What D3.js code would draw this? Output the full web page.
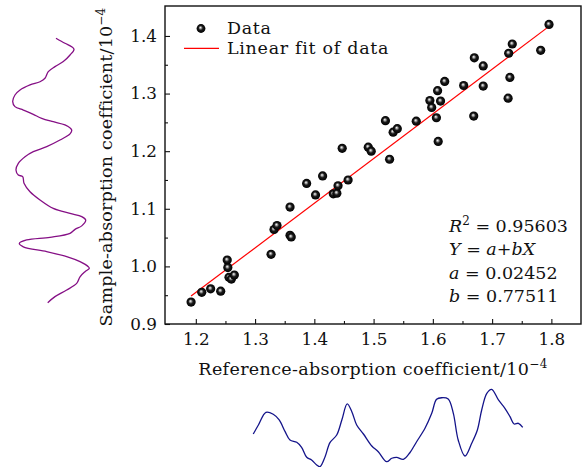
<!DOCTYPE html>
<html>
<head>
<meta charset="utf-8">
<script src="https://cdn.jsdelivr.net/npm/d3@7"></script>
<style>
  html, body { margin: 0; padding: 0; background: #fff; }
  svg { display: block; }
  text { font-family: "DejaVu Serif", serif; fill: #111; }
</style>
</head>
<body>
<svg id="chart" width="585" height="467"></svg>
<script>
// Measured absorption coefficients (units of 1e-4)
const referenceCoef = [
  1.192, 1.210, 1.225, 1.242, 1.253, 1.254, 1.256, 1.260, 1.265, 1.327,
  1.332, 1.337, 1.359, 1.359, 1.361, 1.387, 1.402, 1.414, 1.432, 1.438,
  1.440, 1.457, 1.447, 1.491, 1.496, 1.520, 1.527, 1.533, 1.540, 1.572,
  1.595, 1.598, 1.606, 1.608, 1.613, 1.609, 1.620, 1.652, 1.669, 1.670,
  1.685, 1.685, 1.727, 1.730, 1.728, 1.734, 1.782, 1.796
];
const sampleCoef = [
  0.938, 0.955, 0.961, 0.957, 1.011, 0.998, 0.981, 0.978, 0.985, 1.021,
  1.064, 1.071, 1.103, 1.054, 1.051, 1.144, 1.124, 1.157, 1.126, 1.127,
  1.140, 1.150, 1.205, 1.207, 1.200, 1.253, 1.186, 1.233, 1.239, 1.252,
  1.288, 1.276, 1.258, 1.305, 1.287, 1.217, 1.321, 1.314, 1.261, 1.362,
  1.348, 1.313, 1.292, 1.328, 1.370, 1.386, 1.375, 1.420
];

// Linear fit results
const fitA = 0.02452;
const fitB = 0.77511;
const fitR2 = "0.95603";

// Axis ticks
const xTicks = [1.2, 1.3, 1.4, 1.5, 1.6, 1.7, 1.8];
const xMinor = [1.25, 1.35, 1.45, 1.55, 1.65, 1.75];
const yTicks = [0.9, 1.0, 1.1, 1.2, 1.3, 1.4];
const yMinor = [0.95, 1.05, 1.15, 1.25, 1.35];

// Sample spectrum profile (position along trace, relative intensity)
const sampleTraceT = [0.1, 2, 3.3, 4.3, 6.4, 8.9, 10.8, 12.7, 15.2, 16.5, 17.7, 19.6, 21.5, 24, 25.9, 27.2, 28.8, 30.3, 31.6, 32.8,
  34.7, 36.2, 38.5, 41, 42.9, 44.8, 47.3, 49.8, 51.7, 52.3, 54.8, 58, 61.1, 64.3, 66.2, 67.4, 68.7, 70.9, 72.2, 73.7,
  75.2, 76.2, 77.5, 78.8, 80.6, 82.5, 84.4, 86.3, 86.9, 88.2, 90.1, 92.6, 95.1, 97.6, 99.9];
const sampleTraceV = [56.4, 67.9, 76.5, 79.5, 74.4, 65.8, 55.1, 46.5, 42.3, 35.9, 23.1, 10.3, 3.8, 0.9, 3.8, 14.5, 27.3, 38.1, 52.9, 67.9,
  76.5, 74.4, 61.5, 44.5, 27.3, 16.7, 8.1, 5.1, 8.1, 13.7, 15.4, 23.1, 35.9, 52.9, 74.4, 89.4, 94.5, 89.4, 80.8, 74.4,
  48.7, 18.8, 9.4, 14.5, 44.5, 70.1, 87.2, 97.8, 99.1, 93.6, 87.2, 82.9, 70.1, 55.1, 45.8];

// Reference spectrum profile (position along trace, relative intensity)
const referenceTraceT = [0.1, 2, 4.8, 7.5, 9.7, 11.9, 13.7, 16.2, 18, 19.9, 21.7, 23.6, 24.8, 26.7, 28.5, 31, 32.9, 34.9, 36.6, 38.4,
  40.9, 44, 46.4, 49.5, 51.4, 53.2, 55.7, 58.1, 60.6, 63.7, 66.2, 68, 69.9, 72.3, 74.2, 76, 78.5, 81, 83.1, 84.7,
  86.6, 88.4, 90.9, 93.3, 95.2, 96.7, 98.3, 99.9];
const referenceTraceV = [42.3, 53.8, 70.1, 67.6, 60.3, 45.3, 34.6, 31.7, 25.3, 12.4, 9, 2.6, 0.4, 13.2, 31.2, 41, 60.3, 80.8, 70.9, 53.8,
  42.3, 26.9, 19.6, 6.8, 11.2, 12.4, 9.9, 18.3, 32.4, 49.6, 68.8, 86.8, 88.8, 87.2, 68.8, 34.6, 14.1, 30.4, 47.4, 73.1,
  94.5, 99.6, 85.9, 75.3, 64.5, 55.1, 56, 50.9];

const svg = d3.select("#chart");
const plot = { left: 165, top: 6, right: 581, bottom: 324 };

const x = d3.scaleLinear().domain([1.148, 1.85]).range([plot.left, plot.right]);
const y = d3.scaleLinear().domain([0.9, 1.452]).range([plot.bottom, plot.top]);

// Shaded sphere fill for the data markers
const defs = svg.append("defs");
const grad = defs.append("radialGradient")
  .attr("id", "ball").attr("cx", "0.5").attr("cy", "0.5").attr("r", "0.5")
  .attr("fx", "0.42").attr("fy", "0.38");
grad.append("stop").attr("offset", "0").attr("stop-color", "#ffffff");
grad.append("stop").attr("offset", "0.22").attr("stop-color", "#a0a0a0");
grad.append("stop").attr("offset", "0.5").attr("stop-color", "#1a1a1a");
grad.append("stop").attr("offset", "1").attr("stop-color", "#000000");

const tickFont = 16.8;
const textFont = 17.5;

// Axes with inward ticks
const xAxis = svg.append("g").attr("transform", `translate(0,${plot.bottom})`)
  .call(d3.axisBottom(x).tickValues(xTicks).tickSize(-5).tickPadding(9).tickFormat(d3.format(".1f")));
const xAxisMinor = svg.append("g").attr("transform", `translate(0,${plot.bottom})`)
  .call(d3.axisBottom(x).tickValues(xMinor).tickSize(-3).tickFormat(""));
const yAxis = svg.append("g").attr("transform", `translate(${plot.left},0)`)
  .call(d3.axisLeft(y).tickValues(yTicks).tickSize(-5).tickPadding(8).tickFormat(d3.format(".1f")));
const yAxisMinor = svg.append("g").attr("transform", `translate(${plot.left},0)`)
  .call(d3.axisLeft(y).tickValues(yMinor).tickSize(-3).tickFormat(""));

[xAxis, xAxisMinor, yAxis, yAxisMinor].forEach(g => {
  g.select(".domain").remove();
  g.selectAll(".tick line").attr("stroke", "#111").attr("stroke-width", 1.1);
  g.selectAll(".tick text").attr("font-family", "DejaVu Serif, serif").attr("font-size", tickFont).attr("fill", "#111");
});

// Frame
svg.append("rect")
  .attr("x", plot.left).attr("y", plot.top)
  .attr("width", plot.right - plot.left).attr("height", plot.bottom - plot.top)
  .attr("fill", "none").attr("stroke", "#111").attr("stroke-width", 1.4);

// Fitted line over the data range
const xExt = d3.extent(referenceCoef);
svg.append("line")
  .attr("x1", x(xExt[0])).attr("y1", y(fitA + fitB * xExt[0]))
  .attr("x2", x(xExt[1])).attr("y2", y(fitA + fitB * xExt[1]))
  .attr("stroke", "#ff0000").attr("stroke-width", 1.2);

// Data markers
svg.append("g").selectAll("circle")
  .data(referenceCoef.map((r, i) => [r, sampleCoef[i]]))
  .join("circle")
  .attr("cx", d => x(d[0])).attr("cy", d => y(d[1]))
  .attr("r", 4.6).attr("fill", "url(#ball)");

// Legend
const legend = svg.append("g").attr("font-size", textFont).attr("letter-spacing", 0.7);
legend.append("circle").attr("cx", 201).attr("cy", 28.5).attr("r", 4.4).attr("fill", "url(#ball)");
legend.append("text").attr("x", 227).attr("y", 33.5).text("Data");
legend.append("line").attr("x1", 184).attr("x2", 219).attr("y1", 48.3).attr("y2", 48.3)
  .attr("stroke", "#ff0000").attr("stroke-width", 1.2);
legend.append("text").attr("x", 227).attr("y", 53.5).text("Linear fit of data");

// Fit statistics
const stats = svg.append("g").attr("font-size", textFont);
const s1 = stats.append("text").attr("x", 449).attr("y", 232);
s1.append("tspan").attr("font-style", "italic").text("R");
s1.append("tspan").attr("font-size", 12).attr("dy", -7).text("2");
s1.append("tspan").attr("dy", 7).text(" = " + fitR2);
const s2 = stats.append("text").attr("x", 449).attr("y", 255);
s2.append("tspan").attr("font-style", "italic").text("Y");
s2.append("tspan").text(" = ");
s2.append("tspan").attr("font-style", "italic").text("a");
s2.append("tspan").text("+");
s2.append("tspan").attr("font-style", "italic").text("bX");
const s3 = stats.append("text").attr("x", 449).attr("y", 278.5);
s3.append("tspan").attr("font-style", "italic").text("a");
s3.append("tspan").text(" = " + fitA.toFixed(5));
const s4 = stats.append("text").attr("x", 449).attr("y", 301.5);
s4.append("tspan").attr("font-style", "italic").text("b");
s4.append("tspan").text(" = " + fitB.toFixed(5));

// Axis titles
const xt = svg.append("text").attr("x", (plot.left + plot.right) / 2).attr("y", 375)
  .attr("text-anchor", "middle").attr("font-size", textFont).attr("letter-spacing", 0.35);
xt.append("tspan").text("Reference-absorption coefficient/10");
xt.append("tspan").attr("font-size", 12).attr("dy", -7).text("\u22124");

const yt = svg.append("text")
  .attr("transform", `translate(112,${(plot.top + plot.bottom) / 2 + 2}) rotate(-90)`)
  .attr("text-anchor", "middle").attr("font-size", textFont).attr("letter-spacing", 0.2);
yt.append("tspan").text("Sample-absorption coefficient/10");
yt.append("tspan").attr("font-size", 12).attr("dy", -7).text("\u22124");

// Sample spectrum trace, drawn vertically at the left
const sT = d3.scaleLinear().domain([0, 100]).range([38, 303]);
const sV = d3.scaleLinear().domain([0, 100]).range([12, 90]);
svg.append("path")
  .datum(sampleTraceT.map((t, i) => [sampleTraceV[i], t]))
  .attr("d", d3.line().x(d => sV(d[0])).y(d => sT(d[1])).curve(d3.curveCatmullRom.alpha(0.5)))
  .attr("fill", "none").attr("stroke", "#850f85").attr("stroke-width", 1.3);

// Reference spectrum trace, drawn horizontally below the plot
const rT = d3.scaleLinear().domain([0, 100]).range([253, 523]);
const rV = d3.scaleLinear().domain([0, 100]).range([467, 389]);
svg.append("path")
  .datum(referenceTraceT.map((t, i) => [t, referenceTraceV[i]]))
  .attr("d", d3.line().x(d => rT(d[0])).y(d => rV(d[1])).curve(d3.curveCatmullRom.alpha(0.5)))
  .attr("fill", "none").attr("stroke", "#14148a").attr("stroke-width", 1.3);
</script>
</body>
</html>
